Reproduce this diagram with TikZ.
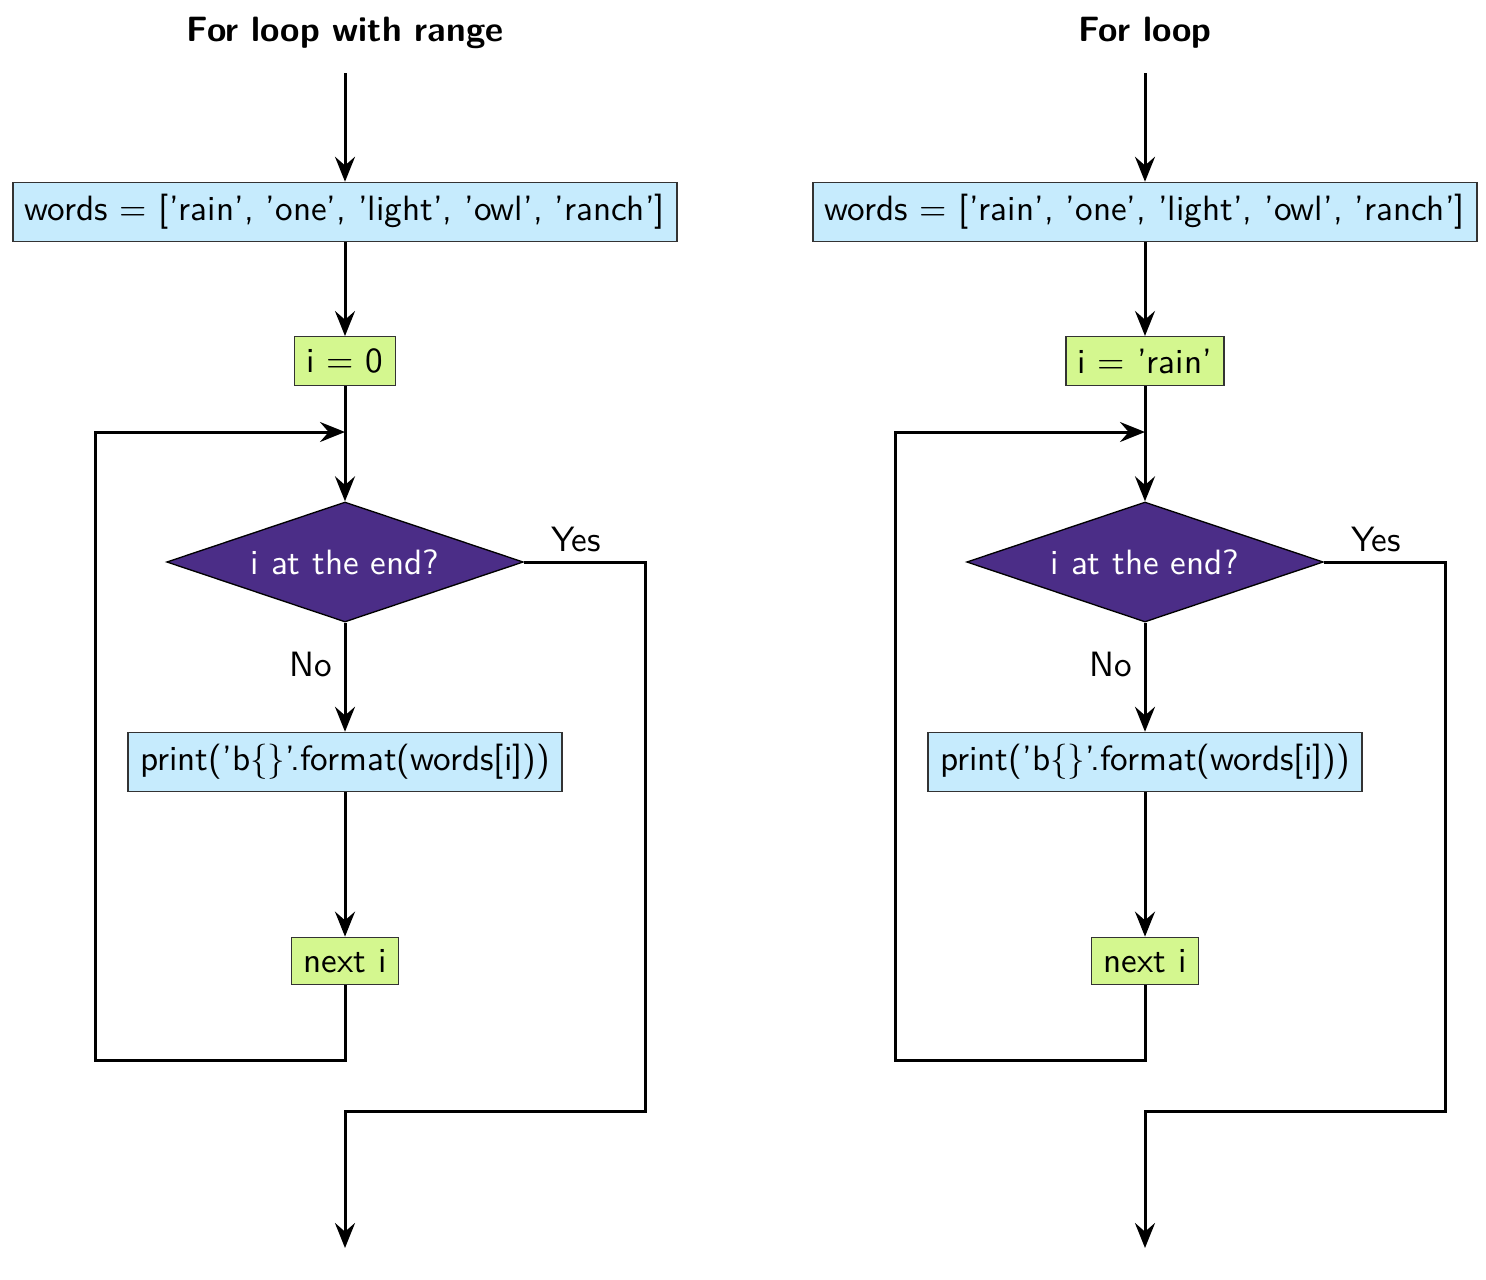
\documentclass[tikz,border=0pt]{standalone}
\usetikzlibrary{shapes.geometric,arrows.meta}
\definecolor{boxblue}{RGB}{198,235,253}
\definecolor{boxgreen}{RGB}{212,247,143}
\definecolor{decpurple}{RGB}{75,45,135}

% One flowchart of a loop; #1 = heading, #2 = initial value of i
\newcommand\loopchart[2]{%
  \node[heading] (t) at (345,33) {#1};
  \coordinate (s) at (345,73);
  \node[stmt] (w) at (345,212) {words = ['rain', 'one', 'light', 'owl', 'ranch']};
  \node[itbox] (i) at (345,361) {#2};
  \coordinate (m) at (345,432);
  \node[decision] (d) at (345,562) {i at the end?};
  \node[stmt] (p) at (345,762) {print('b\{\}'.format(words[i]))};
  \node[itbox] (n) at (345,961) {next i};
  \coordinate (lb) at (95,1060);
  \coordinate (yr) at (645,1111);
  \coordinate (e) at (345,1248);
  \draw[flow] (s) -- (w.north);
  \draw[flow] (w.south) -- (i.north);
  \draw[flow] (i.south) -- (d.north);
  \draw[flow] (d.south) -- node[left, pos=0.38] {No} (p.north);
  \draw[flow] (p.south) -- (n.north);
  \draw[flow] (n.south) |- (lb) |- (m);
  \draw[flow] (d.east) -- node[above, pos=0.43, inner sep=2.5pt] {Yes} (d.east -| yr) -- (yr) -| (e);
}

\begin{document}
\begin{tikzpicture}[x=0.3pt, y=-0.3pt, font=\sffamily\fontsize{10.55pt}{12.7pt}\selectfont,
  flow/.style={line width=0.9pt, -{Stealth[length=7.5pt, width=6pt, inset=2.6pt]}},
  heading/.style={font=\sffamily\bfseries\fontsize{10.55pt}{12.7pt}\selectfont},
  stmt/.style={draw=black!80, line width=0.4pt, fill=boxblue, inner sep=3.6pt},
  itbox/.style={draw=black!80, line width=0.4pt, fill=boxgreen, inner sep=3.6pt},
  decision/.style={diamond, draw=black, line width=0.4pt, fill=decpurple, text=white,
    inner sep=0pt, shape aspect=3, minimum width=107pt, minimum height=36pt}]
  \useasboundingbox (0,0) rectangle (1486,1280);
  \begin{scope}[name prefix=L-]
    \loopchart{For loop with range}{i = 0}
  \end{scope}
  \begin{scope}[xshift=240pt, name prefix=R-]
    \loopchart{For loop}{i = 'rain'}
  \end{scope}
\end{tikzpicture}
\end{document}
